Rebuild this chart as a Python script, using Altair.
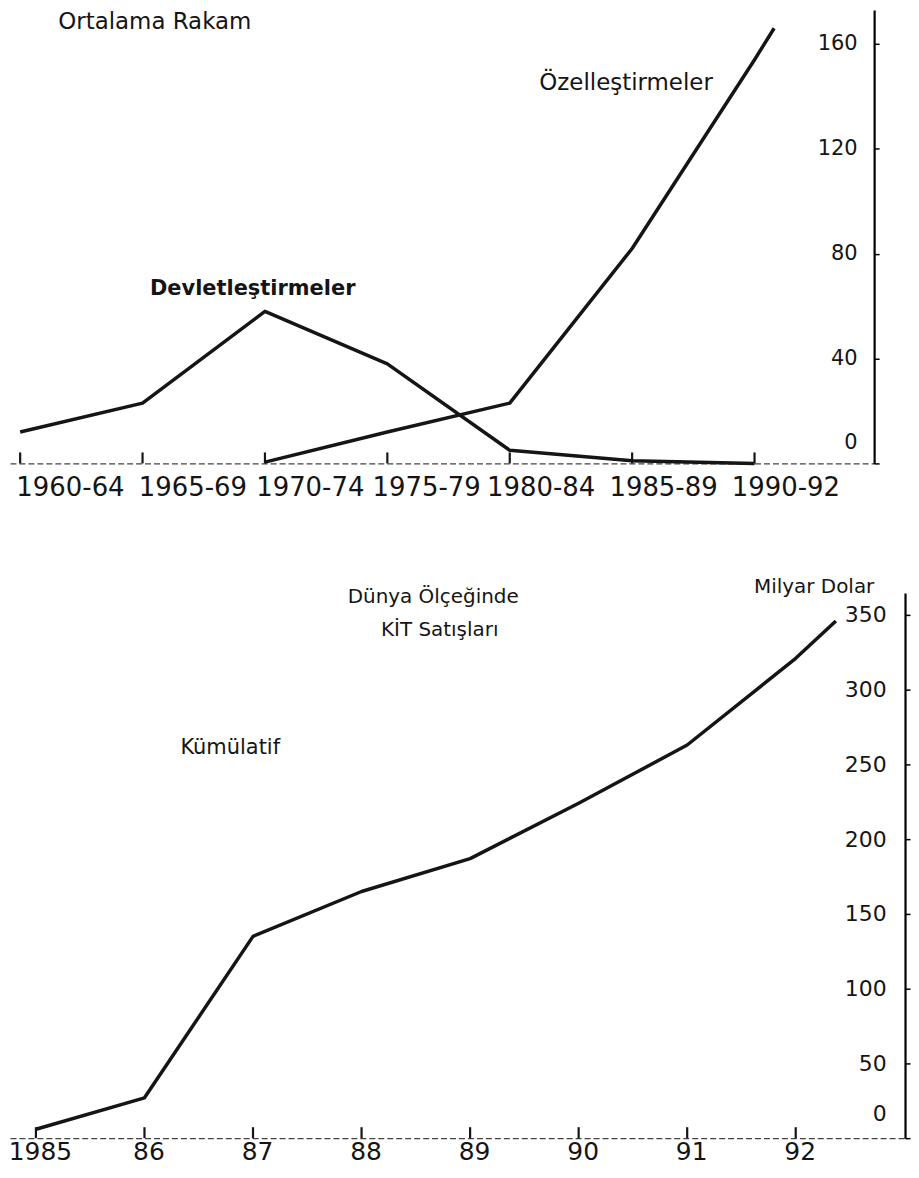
import json
import altair as alt
import pandas as pd

FONT = "DejaVu Sans"
INK = "#151515"

# ---------------- top panel data ----------------
periods = ["1960-64", "1965-69", "1970-74", "1975-79", "1980-84", "1985-89", "1990-92"]
period_pos = [0, 1, 2, 3, 4, 5, 6]
devlet_pos = [0, 1, 2, 3, 4, 5, 6]
devlet_vals = [12, 23, 58, 38, 5, 1, 0]
ozel_pos = [2, 3, 4, 5, 6, 6.16]
ozel_vals = [0.5, 12, 23, 82, 154, 166]
top_y_ticks = [0, 40, 80, 120, 160]

# ---------------- bottom panel data ----------------
years = [1985, 1986, 1987, 1988, 1989, 1990, 1991, 1992]
year_labels = ["1985", "86", "87", "88", "89", "90", "91", "92"]
cumul_x = [1985, 1986, 1987, 1988, 1989, 1990, 1991, 1992, 1992.37]
cumul_vals = [6, 27, 135, 165, 187, 224, 263, 321, 346]
bottom_y_ticks = [0, 50, 100, 150, 200, 250, 300, 350]

W1, H1 = 867, 455
W2, H2 = 898, 547

top_lines = pd.concat([
    pd.DataFrame({"i": devlet_pos, "v": devlet_vals, "s": "Devletleştirmeler"}),
    pd.DataFrame({"i": ozel_pos, "v": ozel_vals, "s": "Özelleştirmeler"}),
])
top_ticks_df = pd.DataFrame({"i": period_pos})
bot_line = pd.DataFrame({"yr": cumul_x, "v": cumul_vals})
bot_ticks_df = pd.DataFrame({"yr": years})


def zero_lift(px):
    return {"condition": {"test": "datum.value === 0", "value": px}, "value": 0}


# the printed period labels sit a little right of their tick marks
period_label_shift = {
    "condition": [
        {"test": "datum.value <= 1", "value": 50},
        {"test": "datum.value === 2", "value": 45},
        {"test": "datum.value === 3", "value": 39},
    ],
    "value": 31,
}

# ---------- top ----------
xs1 = alt.Scale(domain=[-0.083, 6.977], nice=False, zero=False)
ys1 = alt.Scale(domain=[0, 173.0], nice=False)

x_axis1 = alt.Axis(values=period_pos, labelExpr=f"{json.dumps(periods)}[datum.value]",
                   ticks=False, domain=True, domainColor="#444", domainDash=[6, 3],
                   domainWidth=1.3, labelFont=FONT, labelFontSize=26, labelColor=INK,
                   labelAlign="center", labelOffset=period_label_shift, labelPadding=11,
                   grid=False, labelOverlap=False, title=None)
y_axis1 = alt.Axis(orient="right", values=top_y_ticks, domain=True, domainColor="black",
                   domainWidth=2.2, ticks=True, tickSize=5, tickColor="black", tickWidth=1.5,
                   labelAlign="right", labelPadding=-22, labelFont=FONT, labelFontSize=21,
                   labelColor=INK, labelOffset=zero_lift(-21), grid=False, title=None)


def X1(field):
    return alt.X(f"{field}:Q", scale=xs1, axis=x_axis1, title=None)


def Y1(field):
    return alt.Y(f"{field}:Q", scale=ys1, axis=y_axis1, title=None)


top_line = alt.Chart(top_lines).mark_line(color=INK, strokeWidth=3.5, strokeJoin="round").encode(
    x=X1("i"), y=Y1("v"), detail="s:N",
)
top_tick = alt.Chart(top_ticks_df).mark_rule(color=INK, strokeWidth=2.2).encode(
    x=X1("i"), y=alt.value(H1), y2=alt.value(H1 - 11),
)


def note(text, x, y, size, field, X, Y, weight="normal"):
    df = pd.DataFrame({field: [x], "v": [y], "t": [text]})
    return alt.Chart(df).mark_text(font=FONT, fontSize=size, fontWeight=weight, color=INK,
                                   align="center", baseline="middle").encode(
        x=X(field), y=Y("v"), text="t:N",
    )


top = alt.layer(
    top_line, top_tick,
    note("Ortalama Rakam", 1.10, 168.5, 23, "i", X1, Y1),
    note("Devletleştirmeler", 1.90, 66.5, 21, "i", X1, Y1, "bold"),
    note("Özelleştirmeler", 4.95, 145.0, 23, "i", X1, Y1),
).properties(width=W1, height=H1)

# ---------- bottom ----------
xs2 = alt.Scale(domain=[1984.761, 1993.007], nice=False, zero=False)
ys2 = alt.Scale(domain=[0, 364.7], nice=False)

x_axis2 = alt.Axis(values=years, labelExpr=f"{json.dumps(year_labels)}[datum.value - 1985]",
                   ticks=False, domain=True, domainColor="#444", domainDash=[6, 3],
                   domainWidth=1.3, labelFont=FONT, labelFontSize=25, labelColor=INK,
                   labelAlign="center", labelOffset=4, labelPadding=1, grid=False,
                   labelOverlap=False, title=None)
y_axis2 = alt.Axis(orient="right", values=bottom_y_ticks, domain=True, domainColor="black",
                   domainWidth=2.2, ticks=True, tickSize=5, tickColor="black", tickWidth=1.5,
                   labelAlign="right", labelPadding=-24, labelFont=FONT, labelFontSize=22,
                   labelColor=INK, labelOffset=zero_lift(-25), grid=False, title=None)


def X2(field):
    return alt.X(f"{field}:Q", scale=xs2, axis=x_axis2, title=None)


def Y2(field):
    return alt.Y(f"{field}:Q", scale=ys2, axis=y_axis2, title=None)


bot_l = alt.Chart(bot_line).mark_line(color=INK, strokeWidth=3.5, strokeJoin="round").encode(
    x=X2("yr"), y=Y2("v"),
)
bot_tick = alt.Chart(bot_ticks_df).mark_rule(color=INK, strokeWidth=2.2).encode(
    x=X2("yr"), y=alt.value(H2), y2=alt.value(H2 - 11),
)

bottom = alt.layer(
    bot_l, bot_tick,
    note("Dünya Ölçeğinde", 1988.66, 362, 20, "yr", X2, Y2),
    note("KİT Satışları", 1988.72, 340, 20, "yr", X2, Y2),
    note("Milyar Dolar", 1992.17, 368.5, 20, "yr", X2, Y2),
    note("Kümülatif", 1986.79, 261, 21, "yr", X2, Y2),
).properties(width=W2, height=H2)

chart = alt.vconcat(top, bottom, spacing=130, bounds="flush").properties(
    padding={"top": 0, "left": 0, "right": 0, "bottom": 0},
    background="white",
).configure_view(stroke=None)

chart.save("out.html", embed_options={"renderer": "svg", "actions": False})
